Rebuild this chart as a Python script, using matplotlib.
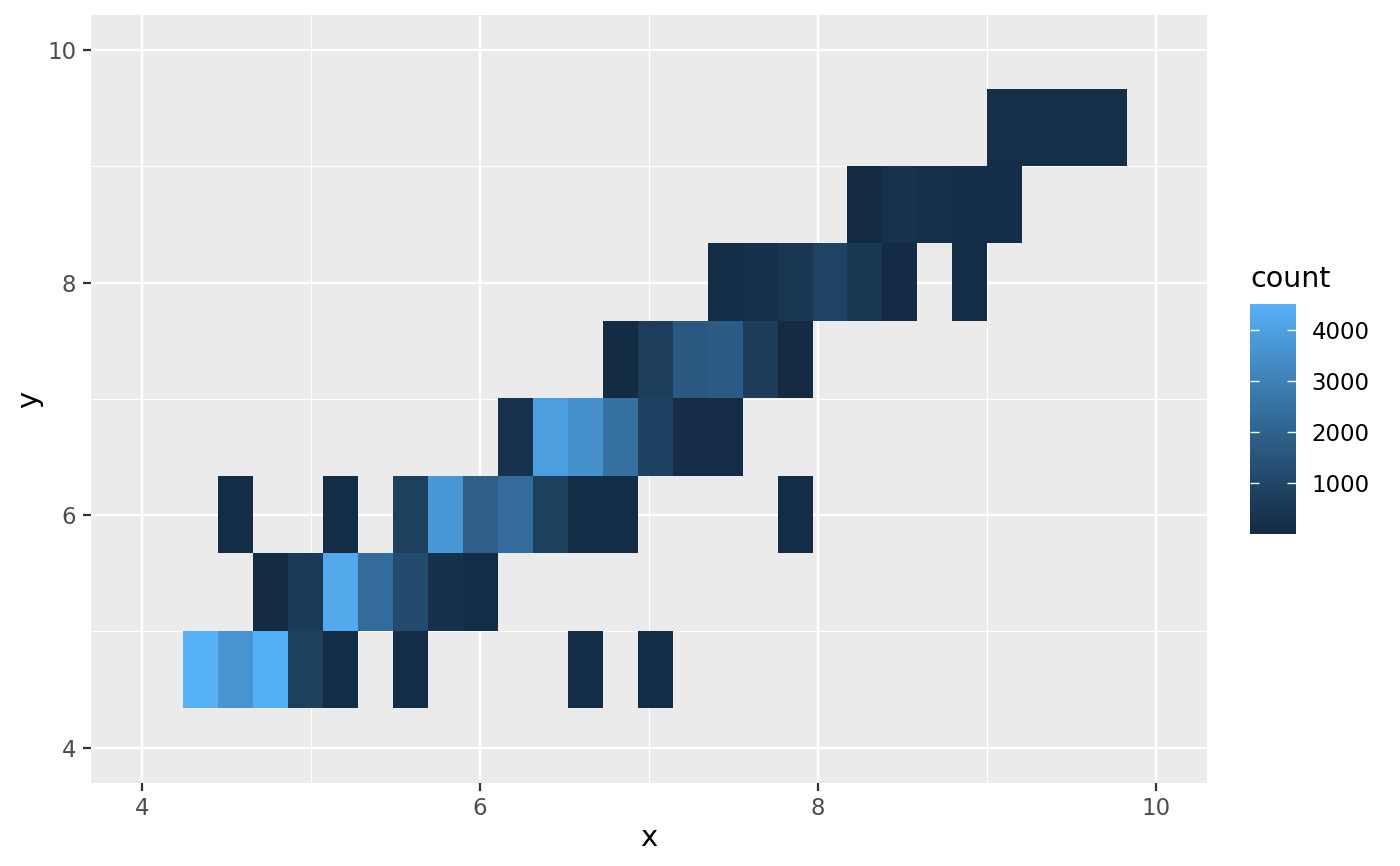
"""
2D bin count heatmap (ggplot-style geom_bin2d look) -> out.png
"""
import numpy as np
import matplotlib
matplotlib.use('Agg')
import matplotlib.pyplot as plt
import matplotlib.colors as mcolors

# bin layout
x_bin_start = 4.244
x_binwidth = 0.2069
y_bin_start = 4.340
y_binwidth = 0.666

# counts per bin, bottom row first, 27 x-bins per row (0 = empty bin)
counts = [
    [4510, 3600, 4450, 800, 100, 0, 100, 0, 0, 0, 0, 100, 0, 100, 0, 0, 0, 0, 0, 0, 0, 0, 0, 0, 0, 0, 0],
    [0, 0, 60, 600, 4250, 2300, 1200, 250, 100, 0, 0, 0, 0, 0, 0, 0, 0, 0, 0, 0, 0, 0, 0, 0, 0, 0, 0],
    [0, 100, 0, 0, 100, 0, 800, 3700, 1900, 2300, 800, 100, 100, 0, 0, 0, 0, 100, 0, 0, 0, 0, 0, 0, 0, 0, 0],
    [0, 0, 0, 0, 0, 0, 0, 0, 0, 300, 3900, 3500, 2500, 850, 80, 80, 0, 0, 0, 0, 0, 0, 0, 0, 0, 0, 0],
    [0, 0, 0, 0, 0, 0, 0, 0, 0, 0, 0, 0, 60, 700, 1650, 1800, 650, 10, 0, 0, 0, 0, 0, 0, 0, 0, 0],
    [0, 0, 0, 0, 0, 0, 0, 0, 0, 0, 0, 0, 0, 0, 0, 100, 250, 450, 900, 500, 40, 0, 100, 0, 0, 0, 0],
    [0, 0, 0, 0, 0, 0, 0, 0, 0, 0, 0, 0, 0, 0, 0, 0, 0, 0, 0, 50, 300, 200, 150, 150, 0, 0, 0],
    [0, 0, 0, 0, 0, 0, 0, 0, 0, 0, 0, 0, 0, 0, 0, 0, 0, 0, 0, 0, 0, 0, 0, 170, 170, 170, 170],
]

axis_ticks = [4, 6, 8, 10]
axis_minor = [5, 7, 9]
legend_ticks = [1000, 2000, 3000, 4000]

LOW, HIGH = '#132B43', '#56B1F7'

M = np.array([[0.4124, 0.3576, 0.1805],
              [0.2126, 0.7152, 0.0722],
              [0.0193, 0.1192, 0.9505]])
WHITE = np.array([0.95047, 1.0, 1.08883])


def hex_to_lab(h):
    rgb = np.array(mcolors.to_rgb(h))
    lin = np.where(rgb <= 0.04045, rgb / 12.92, ((rgb + 0.055) / 1.055) ** 2.4)
    t = (M @ lin) / WHITE
    f = np.where(t > (6 / 29) ** 3, np.cbrt(t), t / (3 * (6 / 29) ** 2) + 4 / 29)
    return np.array([116 * f[1] - 16, 500 * (f[0] - f[1]), 200 * (f[1] - f[2])])


def lab_to_rgb(lab):
    fy = (lab[:, 0] + 16) / 116
    fx = fy + lab[:, 1] / 500
    fz = fy - lab[:, 2] / 200
    f = np.stack([fx, fy, fz], axis=1)
    xyz = np.where(f > 6 / 29, f ** 3, 3 * (6 / 29) ** 2 * (f - 4 / 29)) * WHITE
    lin = xyz @ np.linalg.inv(M).T
    lin = np.clip(lin, 0, 1)
    rgb = np.where(lin <= 0.0031308, 12.92 * lin, 1.055 * lin ** (1 / 2.4) - 0.055)
    return np.clip(rgb, 0, 1)


def gradient_cmap(n=256):
    """Lab-space gradient like scale_fill_continuous."""
    a, b = hex_to_lab(LOW), hex_to_lab(HIGH)
    t = np.linspace(0, 1, n)[:, None]
    return mcolors.ListedColormap(lab_to_rgb(a + (b - a) * t))


def main():
    plt.rcParams['font.family'] = 'DejaVu Sans'

    z = np.array(counts, dtype=float)
    z = np.ma.masked_where(z <= 0, z)
    ny, nx = z.shape
    x_edges = x_bin_start + x_binwidth * np.arange(nx + 1)
    y_edges = y_bin_start + y_binwidth * np.arange(ny + 1)

    W, H = 1400, 866
    fig = plt.figure(figsize=(W / 100, H / 100), dpi=100)
    ax = fig.add_axes([91 / W, (H - 782.7) / H, (1206.7 - 91) / W, (782.7 - 15) / H])
    ax.set_facecolor('#EBEBEB')

    mesh = ax.pcolormesh(x_edges, y_edges, z, cmap=gradient_cmap(),
                         vmin=z.min(), vmax=z.max(), shading='flat',
                         edgecolors='none', antialiased=False, zorder=2)

    ax.set_xlim(3.7, 10.3)
    ax.set_ylim(3.7, 10.3)
    ax.set_xticks(axis_ticks)
    ax.set_yticks(axis_ticks)
    ax.set_xticks(axis_minor, minor=True)
    ax.set_yticks(axis_minor, minor=True)
    ax.grid(which='major', color='white', linewidth=1.7, zorder=1)
    ax.grid(which='minor', color='white', linewidth=0.85, zorder=1)
    ax.set_axisbelow(True)
    for s in ax.spines.values():
        s.set_visible(False)
    ax.tick_params(which='major', length=5.8, width=1.6, color='#333333',
                   labelcolor='#4D4D4D', labelsize=16.5, pad=4.8)
    ax.tick_params(which='minor', length=0)

    fig.text(648.8 / W, (H - 846) / H, 'x', ha='center', va='baseline',
             fontsize=21)
    fig.text(28.7 / W, (H - 398.9) / H, 'y', ha='center', va='center',
             rotation=90, fontsize=21)

    # colour bar legend
    cax = fig.add_axes([1250 / W, (H - 534) / H, 46 / W, 230 / H])
    cb = fig.colorbar(mesh, cax=cax)
    cb.outline.set_visible(False)
    cb.set_ticks(legend_ticks)
    cax.minorticks_off()
    cax.tick_params(axis='y', which='major', direction='in', length=6.5,
                    width=1.0, color='white', labelcolor='black',
                    labelsize=16.5, left=True, right=True,
                    labelleft=False, labelright=True, pad=11.3)
    fig.text(1250.5 / W, (H - 287) / H, 'count', ha='left', va='baseline',
             fontsize=20.5)

    fig.savefig('out.png', dpi=100)
    plt.close(fig)


if __name__ == "__main__":
    main()
